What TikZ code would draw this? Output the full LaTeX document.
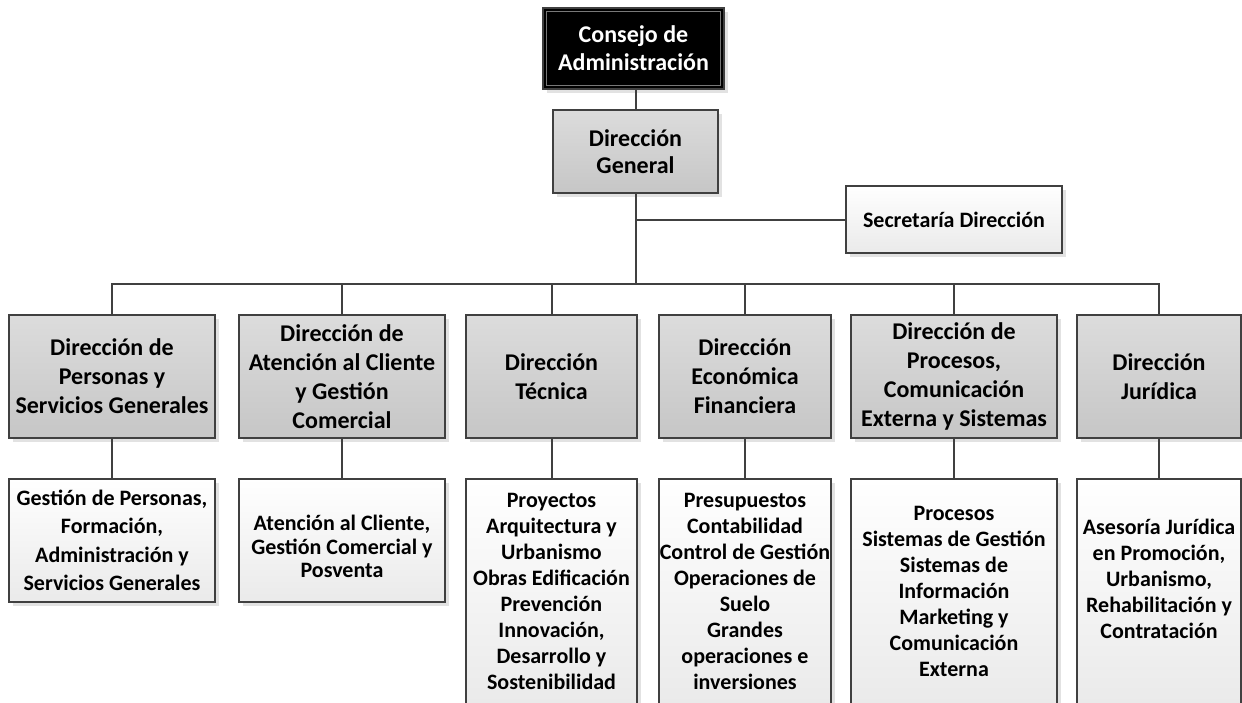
\documentclass[tikz,border=0pt]{standalone}
\usepackage{fontspec}
\setmainfont{Carlito}
\usetikzlibrary{shadows}
\definecolor{lineC}{RGB}{64,64,64}
\definecolor{topA}{RGB}{220,220,220}
\definecolor{topB}{RGB}{198,198,198}
\definecolor{botA}{RGB}{255,255,255}
\definecolor{botB}{RGB}{234,234,234}
\definecolor{shadowC}{RGB}{226,226,226}
\definecolor{innerC}{RGB}{120,120,120}
\tikzset{
  base/.style={rectangle, draw=lineC, line width=2pt, inner sep=0pt, outer sep=0pt,
    align=center, font=\fontsize{24}{29}\selectfont\bfseries,
    drop shadow={shadow xshift=4pt, shadow yshift=-4pt, fill=shadowC, opacity=1}},
  ceobox/.style={base, fill=black, text=white},
  dirbox/.style={base, top color=topA, bottom color=topB},
  subbox/.style={base, top color=botA, bottom color=botB, font=\fontsize{22}{26}\selectfont\bfseries},
  wire/.style={draw=lineC, line width=2pt},
  plain/.style={align=center, inner sep=0pt, font=\fontsize{22}{26}\selectfont\bfseries}
}
\begin{document}
\begin{tikzpicture}[x=1pt,y=1pt]
\useasboundingbox (0,0) rectangle (1242,-702);
\clip (0,0) rectangle (1242,-702);

% top
\node[ceobox, minimum width=181pt, minimum height=81pt, font=\fontsize{24}{28}\selectfont\bfseries] (ceo) at (633.5,-48.5) {Consejo de\\Administración};
\draw[innerC, line width=0.9pt] ([shift={(3.5,3.5)}]ceo.south west) rectangle ([shift={(-3.5,-3.5)}]ceo.north east);
\node[dirbox, minimum width=165pt, minimum height=83pt, font=\fontsize{24}{27}\selectfont\bfseries] (dg) at (635.5,-151.5) {Dirección\\General};
\node[subbox, minimum width=216pt, minimum height=67pt] (sec) at (954,-219.5) {Secretaría Dirección};

% directions
\node[dirbox, minimum width=206pt, minimum height=123pt] (d1) at (112,-376.5) {Dirección de\\Personas y\\Servicios Generales};
\node[dirbox, minimum width=206pt, minimum height=123pt] (d2) at (342,-376.5) {Dirección de\\Atención al Cliente\\y Gestión\\Comercial};
\node[dirbox, minimum width=171pt, minimum height=123pt] (d3) at (551.5,-376.5) {Dirección\\Técnica};
\node[dirbox, minimum width=172pt, minimum height=123pt] (d4) at (745,-376.5) {Dirección\\Económica\\Financiera};
\node[dirbox, minimum width=206pt, minimum height=123pt] (d5) at (954,-376.5) {Dirección de\\Procesos,\\Comunicación\\Externa y Sistemas};
\node[dirbox, minimum width=164pt, minimum height=123pt] (d6) at (1159,-376.5) {Dirección\\Jurídica};

% sub units
\node[subbox, minimum width=206pt, minimum height=123pt, font=\fontsize{22}{28.5}\selectfont\bfseries] (s1) at (112,-540.5) {Gestión de Personas,\\Formación,\\Administración y\\Servicios Generales};
\node[subbox, minimum width=206pt, minimum height=123pt] (s2) at (342,-540.5) {};
\node[plain, font=\fontsize{22}{23.5}\selectfont\bfseries] (s2t) at (342,-546.5) {Atención al Cliente,\\Gestión Comercial y\\Posventa};
\node[subbox, minimum width=171pt, minimum height=225pt] (s3) at (551.5,-591.5) {Proyectos\\Arquitectura y\\Urbanismo\\Obras Edificación\\Prevención\\Innovación,\\Desarrollo y\\Sostenibilidad};
\node[subbox, minimum width=172pt, minimum height=225pt] (s4) at (745,-591.5) {Presupuestos\\Contabilidad\\Control de Gestión\\Operaciones de\\Suelo\\Grandes\\operaciones e\\inversiones};
\node[subbox, minimum width=206pt, minimum height=225pt] (s5) at (954,-591.5) {Procesos\\Sistemas de Gestión\\Sistemas de\\Información\\Marketing y\\Comunicación\\Externa};
\node[subbox, minimum width=164pt, minimum height=225pt] (s6) at (1159,-591.5) {};
\node[plain] (s6t) at (1159,-579) {Asesoría Jurídica\\en Promoción,\\Urbanismo,\\Rehabilitación y\\Contratación};

% connectors
\coordinate (bus) at (636,-284);
\draw[wire] (ceo.south -| dg.north) -- (dg.north);
\draw[wire] (dg.south) -- (dg.south |- bus);
\draw[wire] (dg.south |- sec.west) -- (sec.west);
\draw[wire] ([xshift=-1pt]d1.north |- bus) -- ([xshift=1pt]d6.north |- bus);
\foreach \k in {1,...,6}{
  \draw[wire] (d\k.north |- bus) -- (d\k.north);
  \draw[wire] (d\k.south) -- (s\k.north);
}
\end{tikzpicture}
\end{document}
